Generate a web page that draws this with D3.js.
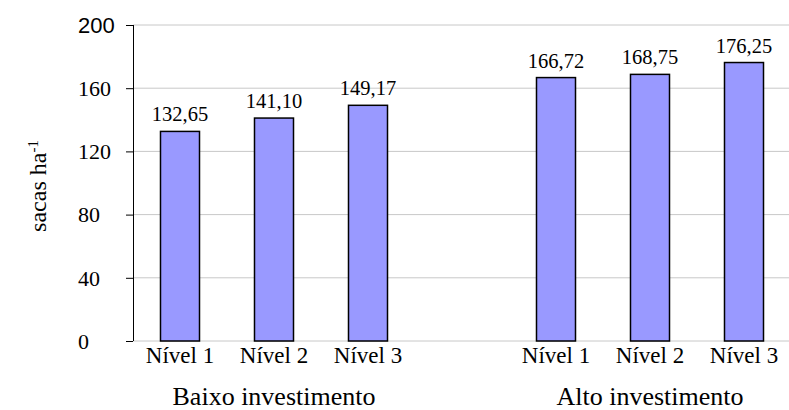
<!DOCTYPE html>
<html>
<head>
<meta charset="utf-8">
<script src="https://cdn.jsdelivr.net/npm/d3@7"></script>
<style>
  body { margin: 0; background: #fff; }
  svg { display: block; }
  text { font-family: "Liberation Serif", "Times New Roman", serif; fill: #000; }
</style>
</head>
<body>
<div id="chart"></div>
<script>
// data
const groups = ["Baixo investimento", "Alto investimento"];
const levels = ["Nível 1", "Nível 2", "Nível 3"];
const baixoValues = [132.65, 141.10, 149.17];
const altoValues = [166.72, 168.75, 176.25];
const yTicks = [0, 40, 80, 120, 160, 200];

function drawChart() {
    let margin = {top: 25, right: -2, bottom: 69, left: 133};
    let width = 789 - margin.left - margin.right;
    let height = 410 - margin.top - margin.bottom;

    let svg = d3.select("#chart").append("svg")
        .attr("width", 789)
        .attr("height", 410)
        .style("font-family", "'Liberation Serif', 'Times New Roman', serif");

    let plot = svg.append("g")
        .attr("transform", "translate(" + margin.left + "," + margin.top + ")");

    // one slot per bar, plus an empty slot between the two groups
    let rows = [];
    levels.forEach((l, i) => rows.push({group: groups[0], level: l, value: baixoValues[i], key: "b" + i}));
    let slots = rows.map(d => d.key).concat(["gap"]);
    levels.forEach((l, i) => {
        rows.push({group: groups[1], level: l, value: altoValues[i], key: "a" + i});
        slots.push("a" + i);
    });

    let x = d3.scaleBand().domain(slots).range([0, width]).padding(0);
    let y = d3.scaleLinear().domain([0, 200]).range([height, 0]);
    let barW = x.bandwidth() * 0.415;

    // grid lines
    plot.append("g").selectAll("line")
        .data(yTicks)
        .enter().append("line")
        .attr("x1", 0)
        .attr("x2", width)
        .attr("y1", d => y(d))
        .attr("y2", d => y(d))
        .attr("stroke", "#c8c8c8")
        .attr("stroke-width", 1);

    // y axis
    let yAxis = plot.append("g")
        .call(d3.axisLeft(y).tickValues(yTicks).tickSize(7).tickFormat(""));
    yAxis.select(".domain").attr("stroke", "#000").attr("d", "M0.5," + height + "V0");
    yAxis.selectAll(".tick line").attr("stroke", "#000");

    plot.append("g").selectAll("text")
        .data(yTicks)
        .enter().append("text")
        .attr("x", -55)
        .attr("y", d => y(d))
        .attr("dy", "0.35em")
        .style("font-size", "22px")
        .style("font-family", d => d === 200 ? "'Liberation Sans', Arial, sans-serif" : "'Liberation Serif', serif")
        .text(d => d);

    // bars
    plot.append("g").selectAll("rect")
        .data(rows)
        .enter().append("rect")
        .attr("x", d => x(d.key) + x.bandwidth() / 2 - barW / 2)
        .attr("y", d => y(d.value))
        .attr("width", barW)
        .attr("height", d => height - y(d.value))
        .attr("fill", "#9999ff")
        .attr("stroke", "#000")
        .attr("stroke-width", 1.5);

    // value labels
    plot.append("g").selectAll("text")
        .data(rows)
        .enter().append("text")
        .attr("x", d => x(d.key) + x.bandwidth() / 2)
        .attr("y", d => y(d.value) - 10)
        .attr("text-anchor", "middle")
        .style("font-size", "20.5px")
        .text(d => d3.format(".2f")(d.value).replace(".", ","));

    // level labels
    plot.append("g").selectAll("text")
        .data(rows)
        .enter().append("text")
        .attr("x", d => x(d.key) + x.bandwidth() / 2)
        .attr("y", height + 22)
        .attr("text-anchor", "middle")
        .style("font-size", "23px")
        .text(d => d.level);

    // group labels
    plot.append("g").selectAll("text")
        .data(groups)
        .enter().append("text")
        .attr("x", (g, i) => x(i === 0 ? "b1" : "a1") + x.bandwidth() / 2)
        .attr("y", height + 64)
        .attr("text-anchor", "middle")
        .style("font-size", "26px")
        .text(d => d);

    // y title
    let title = svg.append("text")
        .attr("transform", "translate(46,186) rotate(-90)")
        .attr("text-anchor", "middle")
        .style("font-size", "24px");
    title.append("tspan").text("sacas ha");
    title.append("tspan").attr("dy", "-0.55em").style("font-size", "15px").text("-1");
}

drawChart();
</script>
</body>
</html>
